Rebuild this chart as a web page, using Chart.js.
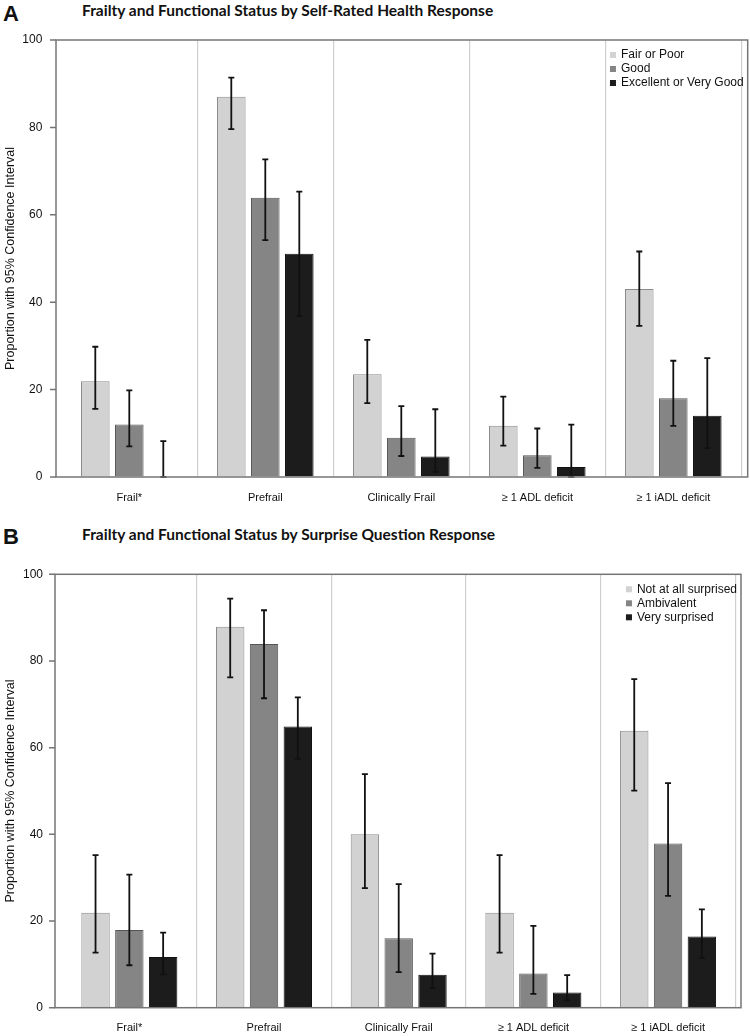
<!DOCTYPE html>
<html>
<head>
<meta charset="utf-8">
<script src="https://cdn.jsdelivr.net/npm/chart.js@4.4.1/dist/chart.umd.min.js"></script>
<style>
  body { margin: 0; background: #fff; }
  #page { position: relative; width: 750px; height: 1036px; }
  .panel { position: absolute; left: 0; width: 750px; }
  .letter { position: absolute; left: 3px; font: bold 22px 'Liberation Sans', Arial, sans-serif; color: #111; }
  .title { position: absolute; left: 82px; font: bold 15.5px Lato, 'Open Sans', sans-serif; color: #111; white-space: nowrap; }
</style>
</head>
<body>
<div id="page">
  <div class="letter" style="top:1px">A</div>
  <div class="title" style="top:1px">Frailty and Functional Status by Self-Rated Health Response</div>
  <div class="panel" style="top:0;height:510px"><canvas id="chartA"></canvas></div>

  <div class="letter" style="top:524px">B</div>
  <div class="title" style="top:525px">Frailty and Functional Status by Surprise Question Response</div>
  <div class="panel" style="top:520px;height:516px"><canvas id="chartB"></canvas></div>
</div>
<script>
const categories = ['Frail*', 'Prefrail', 'Clinically Frail', '\u2265 1 ADL deficit', '\u2265 1 iADL deficit'];
const yTicks = [0, 20, 40, 60, 80, 100];

// panel A - self-rated health
const seriesA = ['Fair or Poor', 'Good', 'Excellent or Very Good'];
const fairPoor = [21.9, 87.0, 23.5, 11.7, 43.0];
const fairPoorLo = [15.6, 79.6, 16.9, 7.2, 34.6];
const fairPoorHi = [29.8, 91.4, 31.4, 18.4, 51.6];
const good = [12.0, 63.9, 9.0, 5.0, 18.0];
const goodLo = [7.0, 54.2, 4.8, 2.1, 11.7];
const goodHi = [19.8, 72.7, 16.2, 11.1, 26.6];
const excellent = [0, 51.1, 4.7, 2.3, 14.0];
const excellentLo = [0, 36.8, 1.2, 0, 6.6];
const excellentHi = [8.2, 65.3, 15.5, 12.0, 27.2];

// panel B - surprise question
const seriesB = ['Not at all surprised', 'Ambivalent', 'Very surprised'];
const notSurprised = [21.9, 87.9, 40.0, 21.9, 63.9];
const notSurprisedLo = [12.7, 76.2, 27.6, 12.7, 50.1];
const notSurprisedHi = [35.2, 94.4, 53.9, 35.2, 75.8];
const ambivalent = [17.9, 83.9, 16.0, 7.9, 37.9];
const ambivalentLo = [9.8, 71.4, 8.2, 3.2, 25.8];
const ambivalentHi = [30.7, 91.7, 28.5, 18.9, 51.8];
const verySurprised = [11.7, 64.9, 7.6, 3.5, 16.4];
const verySurprisedLo = [7.7, 57.4, 4.5, 1.7, 11.5];
const verySurprisedHi = [17.3, 71.6, 12.5, 7.5, 22.7];

const fills = ['#d2d2d2', '#858585', '#1c1c1c'];
const borders = ['#8a8a8a', '#555555', '#111111'];
const FONT = "'Liberation Sans', Arial, sans-serif";

// frame sits a few px outside the category area, like the original
const framePlugin = {
  id: 'frame',
  afterDatasetsDraw(chart, args, opts) {
    const ctx = chart.ctx;
    const a = chart.chartArea;
    const y = chart.scales.y;
    const left = a.left - opts.padL, right = a.right + opts.padR;

    // error bars
    ctx.save();
    ctx.strokeStyle = '#111';
    ctx.lineWidth = 1.8;
    chart.data.datasets.forEach((ds, di) => {
      const meta = chart.getDatasetMeta(di);
      meta.data.forEach((bar, i) => {
        const yl = y.getPixelForValue(ds.lo[i]);
        const yh = y.getPixelForValue(ds.hi[i]);
        ctx.beginPath();
        ctx.moveTo(bar.x, yl); ctx.lineTo(bar.x, yh);
        ctx.moveTo(bar.x - 3, yl); ctx.lineTo(bar.x + 3, yl);
        ctx.moveTo(bar.x - 3, yh); ctx.lineTo(bar.x + 3, yh);
        ctx.stroke();
      });
    });
    ctx.restore();

    // box + y tick marks
    ctx.save();
    ctx.strokeStyle = '#757575';
    ctx.lineWidth = 1.5;
    ctx.strokeRect(left, a.top, right - left, a.bottom - a.top);
    ctx.beginPath();
    y.ticks.forEach(t => {
      const py = y.getPixelForValue(t.value);
      ctx.moveTo(left - 6, py); ctx.lineTo(left, py);
    });
    ctx.stroke();
    ctx.restore();

    // legend in the top right corner
    ctx.save();
    ctx.font = '12px ' + FONT;
    ctx.textBaseline = 'middle';
    const labels = chart.data.datasets.map(d => d.label);
    const w = Math.max(...labels.map(l => ctx.measureText(l).width));
    const tx = right - 4 - w;
    chart.data.datasets.forEach((ds, i) => {
      const ry = a.top + 15 + i * 14;
      ctx.fillStyle = ds.backgroundColor;
      ctx.fillRect(tx - 11, ry - 3, 6, 6);
      ctx.fillStyle = '#111';
      ctx.fillText(ds.label, tx, ry);
    });
    ctx.restore();
  }
};

function makeChart(id, names, vals, los, his, lay) {
  const datasets = names.map((n, i) => ({
    label: n,
    data: vals[i],
    lo: los[i],
    hi: his[i],
    backgroundColor: fills[i],
    borderColor: borders[i],
    borderWidth: 1,
    categoryPercentage: lay.catPct,
    barPercentage: 0.84
  }));

  return new Chart(document.getElementById(id), {
    type: 'bar',
    data: { labels: categories, datasets },
    plugins: [framePlugin],
    options: {
      responsive: true,
      maintainAspectRatio: false,
      animation: false,
      layout: { padding: { left: 0, right: lay.right, top: lay.top, bottom: 0 } },
      plugins: {
        legend: { display: false },
        tooltip: { enabled: false },
        frame: { padL: lay.padL, padR: lay.padR }
      },
      scales: {
        x: {
          grid: {
            offset: true,
            drawTicks: false,
            lineWidth: 1.2,
            color: c => (c.index === 0 || c.index === categories.length) ? 'rgba(0,0,0,0)' : '#cfcfcf'
          },
          border: { display: false },
          ticks: { color: '#111', font: { family: FONT, size: 11 }, padding: 14, maxRotation: 0 },
          afterFit: s => { s.height = lay.xh; }
        },
        y: {
          min: 0,
          max: 100,
          afterBuildTicks: s => { s.ticks = yTicks.map(v => ({ value: v })); },
          grid: { drawOnChartArea: false, drawTicks: true, tickLength: 11, color: 'rgba(0,0,0,0)' },
          border: { display: false },
          ticks: { color: '#111', font: { family: FONT, size: 12 }, padding: 8 },
          title: {
            display: true,
            text: 'Proportion with 95% Confidence Interval',
            color: '#111',
            font: { family: FONT, size: 12.5 },
            padding: { top: 3, bottom: 0 }
          },
          afterFit: s => { s.width = lay.yw; }
        }
      }
    }
  });
}

makeChart('chartA', seriesA,
  [fairPoor, good, excellent],
  [fairPoorLo, goodLo, excellentLo],
  [fairPoorHi, goodHi, excellentHi],
  { top: 40, right: 8.7, yw: 61.3, xh: 33, padL: 5.3, padR: 6.4, catPct: 0.75 });

makeChart('chartB', seriesB,
  [notSurprised, ambivalent, verySurprised],
  [notSurprisedLo, ambivalentLo, verySurprisedLo],
  [notSurprisedHi, ambivalentHi, verySurprisedHi],
  { top: 54.3, right: 14.6, yw: 62, xh: 28.3, padL: 7, padR: 5.6, catPct: 0.753 });
</script>
</body>
</html>
